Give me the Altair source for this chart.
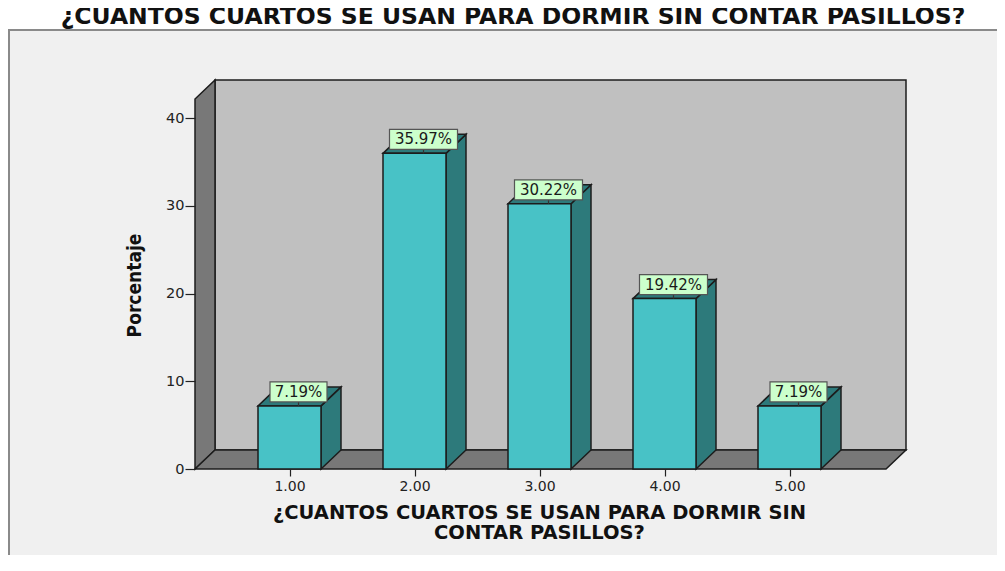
import altair as alt
import pandas as pd

# ---------------- data ----------------
CATS = [1, 2, 3, 4, 5]
PCTS = [7.19, 35.97, 30.22, 19.42, 7.19]
Y_TICKS = [0, 10, 20, 30, 40]
X_TICKS = [1, 2, 3, 4, 5]
TITLE = "¿CUANTOS CUARTOS SE USAN PARA DORMIR SIN CONTAR PASILLOS?"
X_TITLE = ["¿CUANTOS CUARTOS SE USAN PARA DORMIR SIN", "CONTAR PASILLOS?"]
Y_TITLE = "Porcentaje"

# ---------------- geometry / style ----------------
W, H = 711, 389
PX_X = 125.0          # pixels per category step
PX_Y = 8.775          # pixels per percentage point
X_MIN = 1 - 94.5 / PX_X
X_MAX = X_MIN + W / PX_X
Y_MAX = H / PX_Y
DX = 20 / PX_X        # 3D depth, horizontal
DY = 19 / PX_Y        # 3D depth, vertical
FLOOR_L = X_MIN
FLOOR_R = X_MAX - DX
WALL_TOP = Y_MAX - DY
BAR_HALF = 31.5 / PX_X

FRONT = "#48C2C6"
SIDE = "#2D7A7B"
EDGE = "#1c1c1c"
WALL = "#787878"
BACK = "#C0C0C0"
FONT = "DejaVu Sans"

xs = alt.Scale(domain=[X_MIN, X_MAX], nice=False, zero=False)
ys = alt.Scale(domain=[0, Y_MAX], nice=False, zero=False)

X_AXIS = alt.Axis(values=X_TICKS, labelExpr="format(datum.value, '.2f')",
                  domain=False, grid=False, tickSize=7, tickColor="#222",
                  tickWidth=1.2, labelPadding=3, labelFont=FONT,
                  labelFontSize=14, labelColor="#222",
                  title=X_TITLE, titleFont=FONT, titleFontSize=19.5,
                  titleFontWeight="bold", titleColor="#111",
                  titleX=344, titleY=34, titleAlign="center",
                  titleBaseline="top", titleLineHeight=20, zindex=1)
Y_AXIS = alt.Axis(values=Y_TICKS, domain=False, grid=False, tickSize=10,
                  tickColor="#222", tickWidth=1.2, labelPadding=1,
                  labelFont=FONT, labelFontSize=14.5, labelColor="#222",
                  title=Y_TITLE,
                  titleFont="Liberation Sans Narrow, DejaVu Sans Condensed, Liberation Sans",
                  titleFontSize=19, titleFontWeight="bold", titleColor="#111",
                  titleAngle=270, titleX=-61, titleY=205,
                  titleAlign="center", titleBaseline="middle", zindex=1)

# ---------------- derived tables ----------------
bars = pd.DataFrame({"cat": CATS, "pct": PCTS})
bars["left"] = bars["cat"] - BAR_HALF
bars["right"] = bars["cat"] + BAR_HALF

side_rows, top_rows = [], []
for c, p in zip(CATS, PCTS):
    r, l = c + BAR_HALF, c - BAR_HALF
    side_rows += [{"bar": c, "x": r, "y": 0, "y2": p},
                  {"bar": c, "x": r + DX, "y": DY, "y2": p + DY}]
    top_rows += [{"bar": c, "y": p, "x": l, "x2": r},
                 {"bar": c, "y": p + DY, "x": l + DX, "x2": r + DX}]
sides = pd.DataFrame(side_rows)
tops = pd.DataFrame(top_rows)

floor = pd.DataFrame([{"y": 0, "x": FLOOR_L, "x2": FLOOR_R},
                      {"y": DY, "x": FLOOR_L + DX, "x2": FLOOR_R + DX}])
lwall = pd.DataFrame([{"x": FLOOR_L, "y": 0, "y2": WALL_TOP},
                      {"x": FLOOR_L + DX, "y": DY, "y2": Y_MAX}])
bwall = pd.DataFrame([{"x": FLOOR_L + DX, "x2": X_MAX, "y": DY, "y2": Y_MAX}])

labels = pd.DataFrame({"cat": CATS, "pct": PCTS})
labels["label"] = [f"{v:.2f}%" for v in PCTS]
labels["cx"] = labels["cat"] + 9 / PX_X
half = (labels["label"].str.len() * 5.5 + 1) / PX_X
labels["bx0"] = labels["cx"] - half
labels["bx1"] = labels["cx"] + half
labels["by0"] = labels["pct"] + 4 / PX_Y
labels["by1"] = labels["by0"] + 20 / PX_Y
labels["ty"] = labels["pct"] + 14 / PX_Y

one = pd.DataFrame({"t": [TITLE]})

# ---------------- layers ----------------
frame = alt.Chart(one).mark_rect(
    fill="#F0F0F0", stroke="#8a8a8a", strokeWidth=2
).encode(x=alt.value(-186), x2=alt.value(W + 95), y=alt.value(-50), y2=alt.value(H + 95))

title_l = alt.Chart(one).mark_text(
    font=FONT, fontSize=23.5, fontWeight="bold", color="#111",
    align="center", baseline="alphabetic"
).encode(x=alt.value(318), y=alt.value(-56), text="t:N")

front = alt.Chart(bars).mark_rect(fill=FRONT, stroke=EDGE, strokeWidth=1.5).encode(
    x=alt.X("left:Q", scale=xs, axis=X_AXIS), x2="right:Q",
    y=alt.Y("pct:Q", scale=ys, axis=Y_AXIS), y2=alt.datum(0))

back = alt.Chart(bwall).mark_rect(fill=BACK, stroke=EDGE, strokeWidth=1.5).encode(
    x=alt.X("x:Q", scale=xs, axis=X_AXIS), x2="x2:Q",
    y=alt.Y("y:Q", scale=ys, axis=Y_AXIS), y2="y2:Q")

left_wall = alt.Chart(lwall).mark_area(orient="vertical", fill=WALL, stroke=EDGE, strokeWidth=1.5).encode(
    x=alt.X("x:Q", scale=xs, axis=X_AXIS),
    y=alt.Y("y:Q", scale=ys, axis=Y_AXIS, stack=None), y2="y2:Q")

floor_l = alt.Chart(floor).mark_area(orient="horizontal", fill=WALL, stroke=EDGE, strokeWidth=1.5).encode(
    y=alt.Y("y:Q", scale=ys, axis=Y_AXIS),
    x=alt.X("x:Q", scale=xs, axis=X_AXIS, stack=None), x2="x2:Q")

side_l = alt.Chart(sides).mark_area(orient="vertical", fill=SIDE, stroke=EDGE, strokeWidth=1.5).encode(
    x=alt.X("x:Q", scale=xs, axis=X_AXIS),
    y=alt.Y("y:Q", scale=ys, axis=Y_AXIS, stack=None), y2="y2:Q",
    detail="bar:N")

top_l = alt.Chart(tops).mark_area(orient="horizontal", fill=SIDE, stroke=EDGE, strokeWidth=1.5).encode(
    y=alt.Y("y:Q", scale=ys, axis=Y_AXIS),
    x=alt.X("x:Q", scale=xs, axis=X_AXIS, stack=None), x2="x2:Q",
    detail="bar:N")

tick_l = alt.Chart(labels).mark_rule(color="#333", strokeWidth=1.2).encode(
    x=alt.X("cx:Q", scale=xs, axis=X_AXIS),
    y=alt.Y("pct:Q", scale=ys, axis=Y_AXIS), y2="by0:Q")

box_l = alt.Chart(labels).mark_rect(fill="#CCFFCC", stroke="#555", strokeWidth=1.2).encode(
    x=alt.X("bx0:Q", scale=xs, axis=X_AXIS), x2="bx1:Q",
    y=alt.Y("by0:Q", scale=ys, axis=Y_AXIS), y2="by1:Q")

text_l = alt.Chart(labels).mark_text(font=FONT, fontSize=15, color="#1a1a1a",
                                     baseline="middle", align="center").encode(
    x=alt.X("cx:Q", scale=xs, axis=X_AXIS),
    y=alt.Y("ty:Q", scale=ys, axis=Y_AXIS),
    text="label:N")

chart = alt.layer(
    frame, title_l, back, left_wall, floor_l, side_l, top_l, front, tick_l, box_l, text_l
).properties(
    width=W, height=H,
    autosize=alt.AutoSizeParams(type="none"),
    padding={"left": 187, "top": 72, "right": 91, "bottom": 86},
    background="white",
).configure_view(stroke=None)

chart.save("out.html", embed_options={"renderer": "svg", "actions": False})
